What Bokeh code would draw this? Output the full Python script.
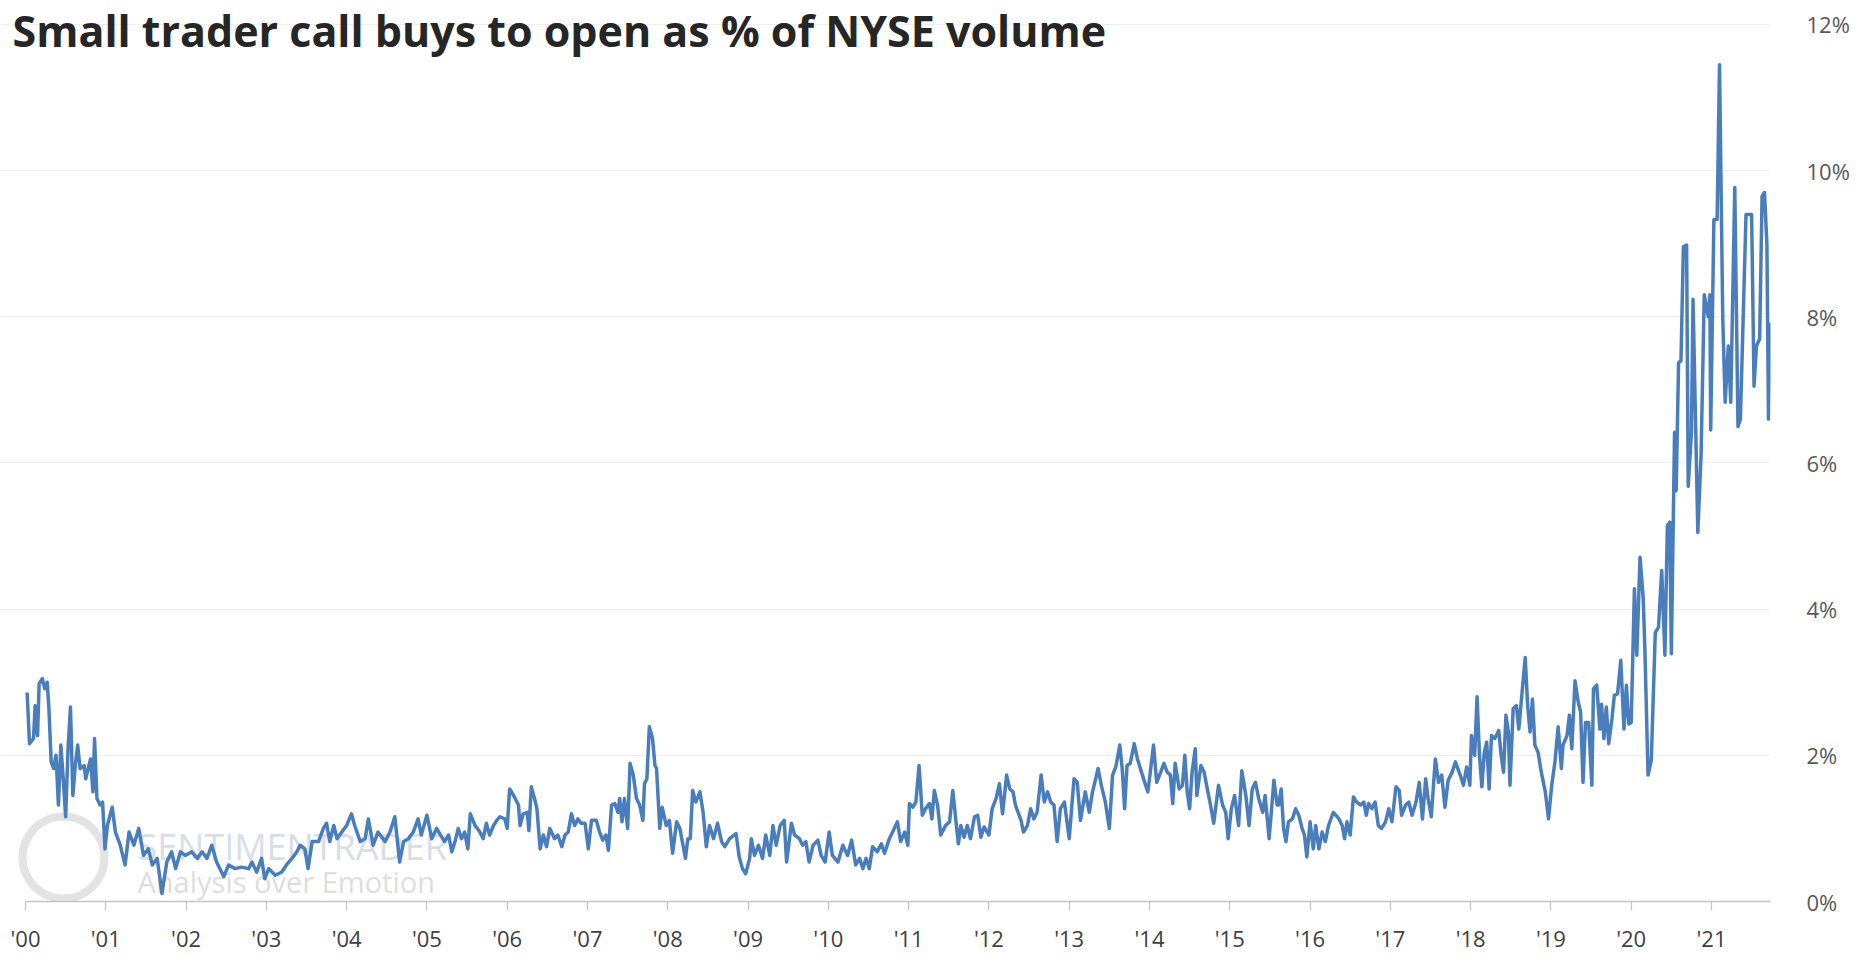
from bokeh.plotting import figure
from bokeh.models import Range1d, FixedTicker, PrintfTickFormatter, Label, ColumnDataSource
from bokeh.embed import file_html
from bokeh.resources import INLINE

# ---- data: fractional years since 2000 and weekly value (% of NYSE volume) ----
t_2000_2005 = [0.02,0.05,0.10,0.12,0.15,0.17,0.21,0.24,0.27,0.29,
               0.32,0.35,0.38,0.41,0.44,0.47,0.50,0.53,0.56,0.59,
               0.62,0.65,0.68,0.73,0.75,0.81,0.84,0.86,0.89,0.93,
               0.96,0.99,1.02,1.08,1.12,1.18,1.24,1.29,1.35,1.41,
               1.47,1.53,1.58,1.64,1.70,1.76,1.82,1.87,1.93,1.99,
               2.07,2.14,2.20,2.26,2.32,2.38,2.47,2.53,2.61,2.69,
               2.78,2.82,2.88,2.94,2.98,3.03,3.11,3.19,3.25,3.32,
               3.38,3.42,3.48,3.52,3.57,3.65,3.71,3.75,3.79,3.84,
               3.88,3.94,4.00,4.06,4.10,4.17,4.23,4.27,4.33,4.39,
               4.48,4.54,4.60,4.66,4.71,4.77,4.83,4.89,4.93,5.00,
               5.06,5.12]
pct_2000_2005 = [2.86,2.16,2.23,2.68,2.27,2.98,3.05,2.91,3.00,2.68,
                 1.91,1.82,2.00,1.32,2.14,1.68,1.16,2.09,2.66,1.45,
                 1.86,2.14,1.82,1.86,1.68,1.95,1.50,2.23,1.41,1.32,
                 1.36,0.72,1.04,1.29,0.95,0.77,0.50,0.95,0.77,1.00,
                 0.63,0.72,0.50,0.59,0.11,0.54,0.68,0.45,0.68,0.63,
                 0.68,0.59,0.68,0.59,0.77,0.54,0.34,0.50,0.45,0.47,
                 0.45,0.54,0.40,0.59,0.31,0.45,0.36,0.40,0.50,0.59,
                 0.68,0.77,0.72,0.45,0.82,0.82,1.00,1.07,0.82,1.04,
                 0.86,0.95,1.04,1.20,1.04,0.82,0.86,1.13,0.77,0.95,
                 0.82,0.95,1.16,0.54,0.82,0.86,0.95,1.13,0.91,1.18,
                 0.86,1.00]

t_2005_2010 = [5.22,5.27,5.31,5.35,5.39,5.43,5.47,5.51,5.54,5.60,
               5.66,5.70,5.74,5.78,5.83,5.87,5.91,5.97,6.00,6.03,
               6.08,6.14,6.16,6.20,6.25,6.27,6.30,6.34,6.37,6.41,
               6.45,6.49,6.53,6.59,6.63,6.68,6.72,6.76,6.80,6.84,
               6.88,6.92,6.97,7.01,7.05,7.11,7.15,7.19,7.23,7.26,
               7.30,7.34,7.38,7.40,7.43,7.46,7.50,7.53,7.57,7.61,
               7.65,7.69,7.71,7.74,7.77,7.81,7.84,7.86,7.90,7.93,
               7.98,8.02,8.06,8.11,8.15,8.19,8.22,8.25,8.28,8.31,
               8.35,8.40,8.44,8.48,8.52,8.57,8.62,8.67,8.71,8.77,
               8.85,8.89,8.93,8.97,9.02,9.04,9.08,9.13,9.18,9.22,
               9.27,9.31,9.35,9.40,9.45,9.48,9.54,9.58,9.64,9.68,
               9.72,9.76,9.81,9.87,9.91,9.96,10.01,10.05,10.12,10.18,
               10.24,10.29,10.34]
pct_2005_2010 = [0.82,0.91,0.68,0.82,1.00,0.86,0.95,0.72,1.20,1.04,
                 0.95,0.86,1.07,0.91,1.04,1.11,1.16,1.13,1.00,1.54,
                 1.45,1.32,1.04,1.20,1.22,0.97,1.57,1.41,1.27,0.72,
                 0.91,0.75,1.00,0.86,0.91,0.75,0.91,0.95,1.20,1.04,
                 1.13,1.07,1.07,0.72,1.11,1.11,0.95,0.84,0.91,0.70,
                 1.32,1.34,1.22,1.41,1.09,1.41,1.00,1.89,1.73,1.41,
                 1.32,1.11,1.61,1.68,2.39,2.23,1.86,1.82,1.00,1.29,
                 1.04,1.11,0.66,1.09,1.00,0.77,0.59,0.86,0.86,1.52,
                 1.36,1.50,1.22,0.75,1.04,0.86,1.07,0.82,0.75,0.86,
                 0.93,0.61,0.45,0.38,0.59,0.86,0.63,0.77,0.59,0.91,
                 0.63,1.04,0.77,1.04,1.11,0.54,1.07,0.91,0.86,0.77,
                 0.82,0.54,0.77,0.84,0.63,0.54,0.95,0.63,0.54,0.77,
                 0.63,0.84,0.50]

t_2010_2015 = [10.39,10.43,10.47,10.51,10.55,10.61,10.66,10.70,10.76,10.80,
               10.86,10.90,10.95,10.99,11.01,11.05,11.09,11.13,11.17,11.21,
               11.26,11.29,11.32,11.36,11.40,11.46,11.51,11.55,11.59,11.62,
               11.65,11.69,11.73,11.77,11.82,11.86,11.90,11.94,12.00,12.04,
               12.09,12.13,12.17,12.22,12.26,12.30,12.33,12.40,12.43,12.48,
               12.52,12.56,12.60,12.65,12.69,12.73,12.77,12.81,12.85,12.89,
               12.94,13.00,13.06,13.10,13.14,13.20,13.25,13.29,13.33,13.36,
               13.40,13.45,13.50,13.54,13.58,13.63,13.66,13.69,13.72,13.76,
               13.81,13.85,13.90,13.94,13.98,14.01,14.05,14.09,14.14,14.18,
               14.22,14.26,14.29,14.32,14.37,14.41,14.44,14.47,14.50,14.53,
               14.57,14.59,14.64,14.68,14.72,14.76,14.80,14.86,14.91,14.95,
               14.98,15.02,15.06,15.11,15.15,15.20,15.24,15.28,15.32,15.36,
               15.41,15.44,15.49,15.55,15.59]
pct_2010_2015 = [0.59,0.45,0.59,0.45,0.75,0.68,0.79,0.66,0.86,0.95,
                 1.09,0.82,0.95,0.77,1.34,1.29,1.36,1.86,1.18,1.27,
                 1.34,1.13,1.52,1.32,0.91,1.04,1.09,1.52,1.09,0.79,
                 1.04,0.88,1.04,0.86,1.16,1.18,0.88,1.02,0.91,1.27,
                 1.41,1.61,1.20,1.73,1.54,1.50,1.32,1.11,0.95,1.04,
                 1.27,1.13,1.22,1.73,1.36,1.50,1.36,1.32,0.82,1.27,
                 1.36,0.86,1.68,1.63,1.11,1.50,1.22,1.50,1.68,1.82,
                 1.59,1.36,1.00,1.73,1.84,2.14,1.82,1.27,1.86,1.89,
                 2.16,1.95,1.77,1.63,1.50,1.77,2.14,1.63,1.77,1.89,
                 1.77,1.73,1.34,1.89,1.54,1.59,2.00,1.50,1.27,1.77,
                 2.09,1.45,1.86,1.77,1.54,1.32,1.07,1.59,1.32,1.22,
                 0.86,1.27,1.45,1.04,1.79,1.45,1.04,1.54,1.63,1.41,
                 1.22,1.45,0.86,1.66,1.32]

t_2015_2019 = [15.61,15.64,15.67,15.70,15.73,15.78,15.82,15.86,15.90,15.93,
               15.96,16.00,16.04,16.07,16.11,16.15,16.19,16.23,16.29,16.36,
               16.40,16.43,16.46,16.50,16.54,16.58,16.63,16.67,16.70,16.73,
               16.77,16.81,16.85,16.89,16.94,16.98,17.02,17.07,17.11,17.14,
               17.19,17.23,17.27,17.32,17.36,17.40,17.44,17.47,17.51,17.56,
               17.60,17.64,17.68,17.72,17.77,17.81,17.87,17.91,17.95,17.99,
               18.01,18.05,18.08,18.11,18.14,18.17,18.20,18.23,18.26,18.30,
               18.35,18.38,18.41,18.44,18.47,18.49,18.53,18.57,18.60,18.63,
               18.68,18.71,18.74,18.77,18.80,18.84,18.88,18.93,18.97,19.01,
               19.05,19.09]
pct_2015_2019 = [1.32,1.54,1.00,0.82,1.09,1.13,1.27,1.18,1.00,0.91,
                 0.61,1.09,0.72,1.04,0.72,0.95,0.82,1.04,1.22,1.13,
                 1.04,0.86,1.09,0.91,1.43,1.36,1.32,1.36,1.18,1.34,
                 1.27,1.36,1.04,1.00,1.09,1.27,1.09,1.57,1.52,1.18,
                 1.32,1.36,1.18,1.36,1.63,1.13,1.68,1.41,1.16,1.95,
                 1.63,1.73,1.29,1.66,1.77,1.91,1.73,1.59,1.84,1.59,
                 2.27,2.00,2.80,2.00,1.57,2.04,2.18,1.54,2.27,2.23,
                 2.34,2.00,1.77,2.55,2.32,1.59,2.64,2.68,2.36,2.73,
                 3.34,2.68,2.32,2.77,2.14,2.04,1.77,1.50,1.13,1.59,
                 1.91,2.39]

t_2019_2021 = [19.13,19.15,19.20,19.23,19.26,19.30,19.34,19.37,19.40,19.43,
               19.47,19.51,19.53,19.57,19.61,19.63,19.66,19.69,19.72,19.76,
               19.79,19.83,19.87,19.91,19.94,19.97,20.00,20.04,20.07,20.11,
               20.15,20.17,20.21,20.25,20.30,20.34,20.38,20.42,20.45,20.48,
               20.50,20.54,20.56,20.59,20.62,20.65,20.69,20.71,20.75,20.77,
               20.83,20.87,20.91,20.96,20.98,20.99,21.03,21.07,21.10,21.14,
               21.17,21.21,21.24,21.29,21.33,21.36,21.43,21.50,21.53,21.56,
               21.60,21.63,21.66,21.69,21.71,21.73]
pct_2019_2021 = [1.82,2.14,2.27,2.55,2.09,3.02,2.73,2.59,1.63,2.45,
                 2.45,1.59,2.91,2.96,2.36,2.70,2.23,2.66,2.16,2.50,
                 2.82,2.84,3.30,2.36,2.96,2.43,2.45,4.28,3.37,4.71,
                 4.14,3.46,1.73,1.93,3.68,3.75,4.53,3.37,5.14,5.19,
                 3.39,6.42,5.62,7.37,7.40,8.96,8.98,5.68,6.42,8.24,
                 5.05,6.10,8.30,8.00,8.30,6.45,9.33,9.33,11.45,8.00,
                 6.83,7.60,6.83,9.77,6.50,6.60,9.40,9.40,7.05,7.60,
                 7.70,9.65,9.70,9.00,6.60,7.92]

tick_years = list(range(2000, 2022))
tick_labels = ["'00", "'01", "'02", "'03", "'04", "'05", "'06", "'07", "'08", "'09", "'10",
               "'11", "'12", "'13", "'14", "'15", "'16", "'17", "'18", "'19", "'20", "'21"]
pct_ticks = [0, 2, 4, 6, 8, 10, 12]

title_text = "Small trader call buys to open as % of NYSE volume"
watermark_name = "SENTIMENTRADER"
watermark_tagline = "Analysis over Emotion"

# ---- assemble series ----
years, pct = [], []
for t, v in [(t_2000_2005, pct_2000_2005), (t_2005_2010, pct_2005_2010),
             (t_2010_2015, pct_2010_2015), (t_2015_2019, pct_2015_2019),
             (t_2019_2021, pct_2019_2021)]:
    n = min(len(t), len(v))
    years += [2000 + x for x in t[:n]]
    pct += v[:n]

src = ColumnDataSource(data=dict(year=years, pct=pct))

FONT = "Open Sans"
W, H = 1868, 955
RIGHT_PANEL = 98
BOTTOM_PANEL = 52
FRAME_W = W - RIGHT_PANEL
FRAME_H = H - BOTTOM_PANEL
X_END = 2021.735
LEFT_PAD_PX = 25          # where the '00 tick sits inside the frame
PX_PER_YEAR = (FRAME_W - LEFT_PAD_PX) / (X_END - 2000)
X_START = 2000 - LEFT_PAD_PX / PX_PER_YEAR
TOP_PAD_PX = 24           # where the 12% line sits below the frame top
PX_PER_PCT = (FRAME_H - TOP_PAD_PX) / 12.0
Y_TOP = 12 + TOP_PAD_PX / PX_PER_PCT

p = figure(width=W, height=H, output_backend="svg", toolbar_location=None, tools="",
           x_range=Range1d(X_START, X_END), y_range=Range1d(0, Y_TOP),
           y_axis_location="right",
           min_border_left=0, min_border_right=RIGHT_PANEL, min_border_top=0,
           min_border_bottom=BOTTOM_PANEL)
p.outline_line_color = None
p.background_fill_color = "white"
p.border_fill_color = "white"

# x axis
xa = p.xaxis[0]
xa.ticker = FixedTicker(ticks=tick_years)
xa.major_label_overrides = {y: l for y, l in zip(tick_years, tick_labels)}
xa.bounds = (tick_years[0], years[-1])
xa.axis_line_color = "#c4c4c4"
xa.axis_line_width = 1.5
xa.major_tick_line_color = "#c4c4c4"
xa.major_tick_line_width = 1.2
xa.major_tick_in = 0
xa.major_tick_out = 9
xa.minor_tick_line_color = None
xa.major_label_standoff = 12
xa.major_label_text_font = FONT
xa.major_label_text_font_size = "22px"
xa.major_label_text_color = "#404040"

# y axis (right)
ya = p.yaxis[0]
ya.ticker = FixedTicker(ticks=pct_ticks)
ya.formatter = PrintfTickFormatter(format="%d%%")
ya.axis_line_color = None
ya.major_tick_line_color = None
ya.minor_tick_line_color = None
ya.major_label_standoff = 30
ya.major_label_text_font = FONT
ya.major_label_text_font_size = "22px"
ya.major_label_text_color = "#595959"

p.xgrid.grid_line_color = None
p.ygrid.ticker = FixedTicker(ticks=pct_ticks)
p.ygrid.grid_line_color = "#eeeeee"
p.ygrid.grid_line_width = 1
p.ygrid.bounds = (tick_years[0], years[-1])

# watermark (underlay so the series draws over it)
wm_x = 2000 + 112 / PX_PER_YEAR
p.scatter(x=[2000 + 38 / PX_PER_YEAR], y=[44 / PX_PER_PCT], marker="circle", size=82,
          fill_color=None, line_color="#e3e3e3", line_width=8, level="underlay")
p.add_layout(Label(x=wm_x, y=55 / PX_PER_PCT, text=watermark_name, text_font=FONT,
                   text_font_size="36px", text_color="#cdd6e0", text_alpha=0.8,
                   text_baseline="middle", level="underlay"))
p.add_layout(Label(x=wm_x, y=20 / PX_PER_PCT, text=watermark_tagline, text_font=FONT,
                   text_font_size="29px", text_color="#dadada", text_alpha=0.9,
                   text_baseline="middle", level="underlay"))

p.line(x="year", y="pct", source=src, line_color="#4a7dbb", line_width=3.5, line_join="round")

# title drawn over the plot area, top-left (box kept inside the canvas)
p.add_layout(Label(x=X_START + 12 / PX_PER_YEAR, y=Y_TOP - 1 / PX_PER_PCT, text=title_text,
                   text_font=FONT, text_font_style="bold", text_font_size="43px",
                   text_color="#262626", text_baseline="top", text_align="left"))

open("out.html", "w").write(file_html(p, INLINE))
